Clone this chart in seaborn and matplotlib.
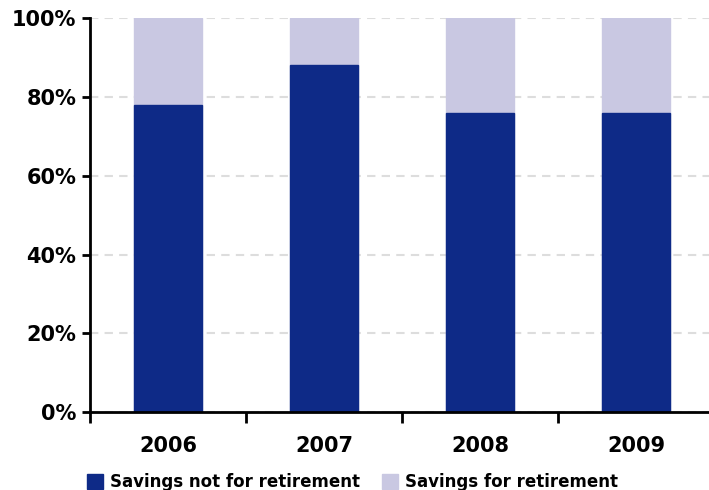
import matplotlib
matplotlib.use("Agg")
import matplotlib.pyplot as plt
import seaborn as sns
import pandas as pd
from matplotlib.patches import Patch

years = ["2006", "2007", "2008", "2009"]
not_retirement = [78, 88, 76, 76]
for_retirement = [22, 12, 24, 24]
yticks = [0, 20, 40, 60, 80, 100]

dark = "#0E2A87"
light = "#C9C8E2"

sns.set_theme(style="white")
plt.rcParams['font.family'] = ['DejaVu Sans']
plt.rcParams['text.color'] = 'black'
plt.rcParams['xtick.color'] = 'black'
plt.rcParams['ytick.color'] = 'black'

df = pd.DataFrame({"year": years, "not": not_retirement,
                   "total": [a + b for a, b in zip(not_retirement, for_retirement)]})

fig = plt.figure(figsize=(7.09, 4.90), dpi=100)
ax = fig.add_axes([0.127, 0.159, 0.88, 0.804])

sns.barplot(data=df, x="year", y="total", color=light, width=0.43, ax=ax,
            saturation=1, edgecolor=light)
sns.barplot(data=df, x="year", y="not", color=dark, width=0.43, ax=ax,
            saturation=1, edgecolor=dark)

ax.set_xlim(-0.5, 3.5)
ax.set_ylim(0, 100)
ax.set_yticks(yticks)
ax.set_yticklabels([f"{v}%" for v in yticks], fontsize=15, fontweight="heavy")
ax.set_xlabel("")
ax.set_ylabel("")
ax.tick_params(axis="x", which="major", length=0, pad=17, labelsize=15)
for lbl in ax.get_xticklabels():
    lbl.set_fontweight("heavy")
ax.set_xticks([-0.5, 0.5, 1.5, 2.5], minor=True)
ax.tick_params(axis="x", which="minor", length=8, width=2, direction="out", bottom=True, color="black")
ax.tick_params(axis="y", length=6, width=2, direction="out", left=True, color="black", pad=4)

ax.yaxis.grid(True, linestyle=(0, (4, 3)), color="#DDDDDD", linewidth=1.5)
ax.set_axisbelow(True)
for s in ["top", "right"]:
    ax.spines[s].set_visible(False)
ax.spines["left"].set_color("black")
ax.spines["left"].set_linewidth(2)
ax.spines["bottom"].set_color("black")
ax.spines["bottom"].set_linewidth(2)

handles = [Patch(color=dark, label="Savings not for retirement"),
           Patch(color=light, label="Savings for retirement")]
leg = fig.legend(handles=handles, loc="lower left", bbox_to_anchor=(0.106, -0.026), ncol=2,
                 frameon=False, prop={"weight": "heavy", "size": 12}, borderpad=0.2,
                 handlelength=1.0, handleheight=1.0, handletextpad=0.4, columnspacing=1.3)

fig.savefig("out.png", dpi=100)
